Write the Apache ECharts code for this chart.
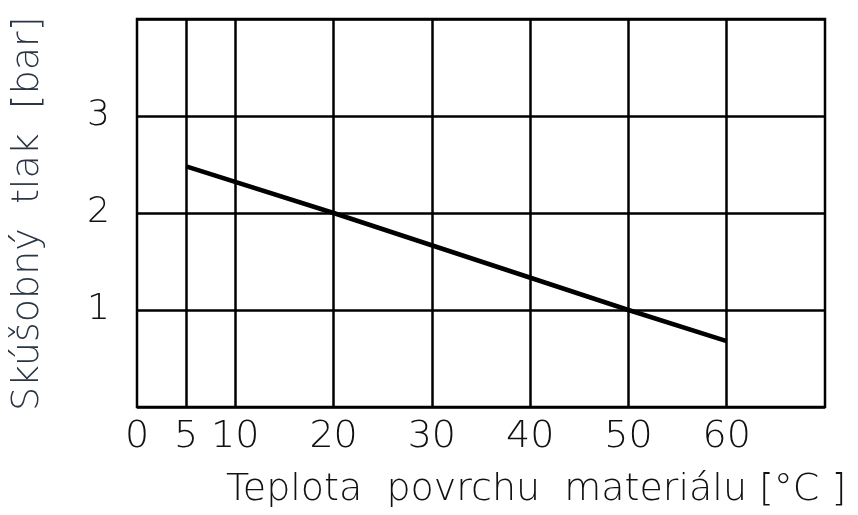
<!DOCTYPE html>
<html><head><meta charset="utf-8">
<script src="https://cdn.jsdelivr.net/npm/echarts@6/dist/echarts.min.js"></script>
<style>html,body{margin:0;padding:0;background:#fff}#c{width:858px;height:515px}</style>
</head><body><div id="c"></div>
<script>
const temps = [5, 20, 50, 60];
const pressures = [2.48, 2.0, 1.0, 0.68];
const xTickLabels = [0, 5, 10, 20, 30, 40, 50, 60];
const xGridValues = [5, 10, 20, 30, 40, 50, 60];
const yTickLabels = [1, 2, 3];
const xTitle = 'Teplota  povrchu  materiálu [°C ]';
const yTitle = 'Skúšobný  tlak  [bar]';

const font = 'DejaVu Sans';
const chart = echarts.init(document.getElementById('c'));
chart.setOption({
  animation: false,
  grid: {left: 137, right: 33, top: 19, bottom: 108, show: true, borderColor: '#000', borderWidth: 2.5, backgroundColor: 'transparent'},
  xAxis: {
    type: 'value', min: 0, max: 70, interval: 5,
    axisLine: {show: false}, axisTick: {show: false}, splitLine: {show: false},
    axisLabel: {
      margin: 11, color: '#111', fontFamily: font, fontWeight: 200, fontSize: 38,
      formatter: v => xTickLabels.includes(v) ? String(v) : ''
    }
  },
  yAxis: {
    type: 'value', min: 0, max: 4, interval: 1,
    axisLine: {show: false}, axisTick: {show: false},
    splitLine: {show: true, lineStyle: {color: '#000', width: 2.5}},
    axisLabel: {
      margin: 27, color: '#111', fontFamily: font, fontWeight: 200, fontSize: 36,
      formatter: v => yTickLabels.includes(v) ? String(v) : ''
    }
  },
  graphic: [
    {type: 'text', left: 226, top: 471, style: {text: xTitle, fontFamily: font, fontWeight: 200, fontSize: 38, fill: '#111'}},
    {type: 'text', x: 9, y: 411, rotation: Math.PI / 2, style: {text: yTitle, fontFamily: font, fontWeight: 200, fontSize: 38, fill: '#2a3644'}}
  ],
  series: [{
    type: 'line',
    data: temps.map((t, i) => [t, pressures[i]]),
    symbol: 'none',
    lineStyle: {color: '#000', width: 4.5},
    z: 5,
    markLine: {
      silent: true, symbol: 'none', label: {show: false},
      lineStyle: {color: '#000', width: 2.5, type: 'solid'},
      data: xGridValues.map(v => ({xAxis: v}))
    }
  }]
});
</script></body></html>
